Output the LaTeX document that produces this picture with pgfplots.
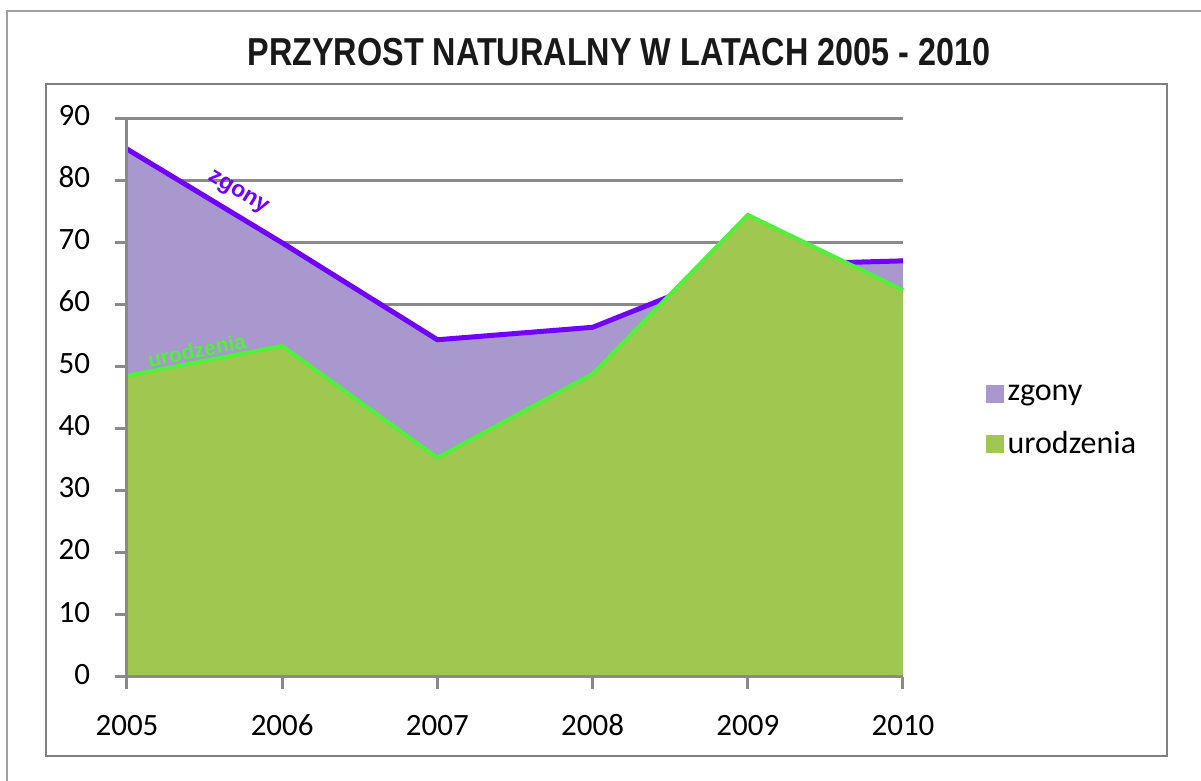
\documentclass[border=0pt]{standalone}
\usepackage{fontspec}
\setmainfont{Carlito}
\newfontfamily\arialf{Liberation Sans}
\usepackage{pgfplots}
\pgfplotsset{compat=1.18}
\definecolor{zgfill}{RGB}{168,152,205}
\definecolor{zgline}{RGB}{112,0,255}
\definecolor{urfill}{RGB}{160,200,80}
\definecolor{urline}{RGB}{80,240,60}
\definecolor{gridc}{RGB}{138,138,138}
\definecolor{framec}{RGB}{160,160,160}
\begin{document}
\begin{tikzpicture}
\useasboundingbox (0,0) rectangle (600.5pt,390.5pt);
\fill[white] (0,0) rectangle (600.5pt,390.5pt);
% outer frame
\draw[framec, line width=1pt] (3.5pt,-20pt) -- (3.5pt,385pt) -- (620pt,385pt);
% inner frame
\draw[framec!80!black, line width=1.3pt] (23pt,12.5pt) rectangle (583.5pt,348.5pt);
% title
\node[font=\arialf\bfseries\fontsize{19.5}{22}\selectfont, text=black!90] at (309.5pt,364.5pt) {\scalebox{0.83}[1]{PRZYROST NATURALNY W LATACH 2005 - 2010}};
\begin{axis}[
  at={(63.5pt,52pt)}, anchor=south west,
  width=388pt, height=279.5pt, scale only axis,
  xmin=2005, xmax=2010, ymin=0, ymax=90,
  xtick={2005,2006,2007,2008,2009,2010},
  ytick={0,10,...,90},
  /pgf/number format/1000 sep={},
  /pgf/number format/assume math mode=true,
  axis x line=bottom, axis y line=left,
  axis line style={-, draw=none},
  tick align=outside,
  major tick length=6pt,
  tick style={gridc, line width=1.5pt},
  ymajorgrids,
  major grid style={gridc, line width=1.5pt},
  typeset ticklabels with strut,
  ticklabel style={font=\fontsize{15.5}{18}\selectfont},
  xticklabel style={yshift=-7pt},
  yticklabel style={xshift=-9pt},
  legend style={at={(1.106,0.459)}, anchor=west, draw=none, fill=none,
    font=\fontsize{16}{19}\selectfont, row sep=10pt, inner sep=0pt},
  legend cell align=left,
  legend image code/.code={\fill[#1] (0pt,-4.5pt) rectangle (9pt,4.5pt);},
  clip=false,
]
\addplot[fill=zgfill, draw=none] coordinates {(2005,85.0) (2006,69.9) (2007,54.3) (2008,56.3) (2009,66.3) (2010,67.0)} \closedcycle;
\addlegendentry{zgony}
\addplot[zgline, line width=2.5pt, forget plot] coordinates {(2005,85.0) (2006,69.9) (2007,54.3) (2008,56.3) (2009,66.3) (2010,67.0)};
\addplot[fill=urfill, draw=none] coordinates {(2005,48.5) (2006,53.3) (2007,35.3) (2008,48.8) (2009,74.4) (2010,62.3)} \closedcycle;
\addlegendentry{urodzenia}
\addplot[urline, line width=2pt, forget plot] coordinates {(2005,48.5) (2006,53.3) (2007,35.3) (2008,48.8) (2009,74.4) (2010,62.3)};
\draw[gridc, line width=1.5pt] (axis cs:2005,0) -- (axis cs:2005,90);
\draw[gridc, line width=1.5pt] (axis cs:2005,0) -- (axis cs:2010,0);
\node[font=\arialf\bfseries\fontsize{11.5}{13}\selectfont, text=zgline, rotate=-31.2, inner sep=0pt] at (axis cs:2005.715,77.9) {zgony};
\node[font=\arialf\bfseries\fontsize{10.5}{12}\selectfont, text=urline, rotate=11, inner sep=0pt] at (axis cs:2005.45,52.6) {urodzenia};
\end{axis}
\end{tikzpicture}
\end{document}
